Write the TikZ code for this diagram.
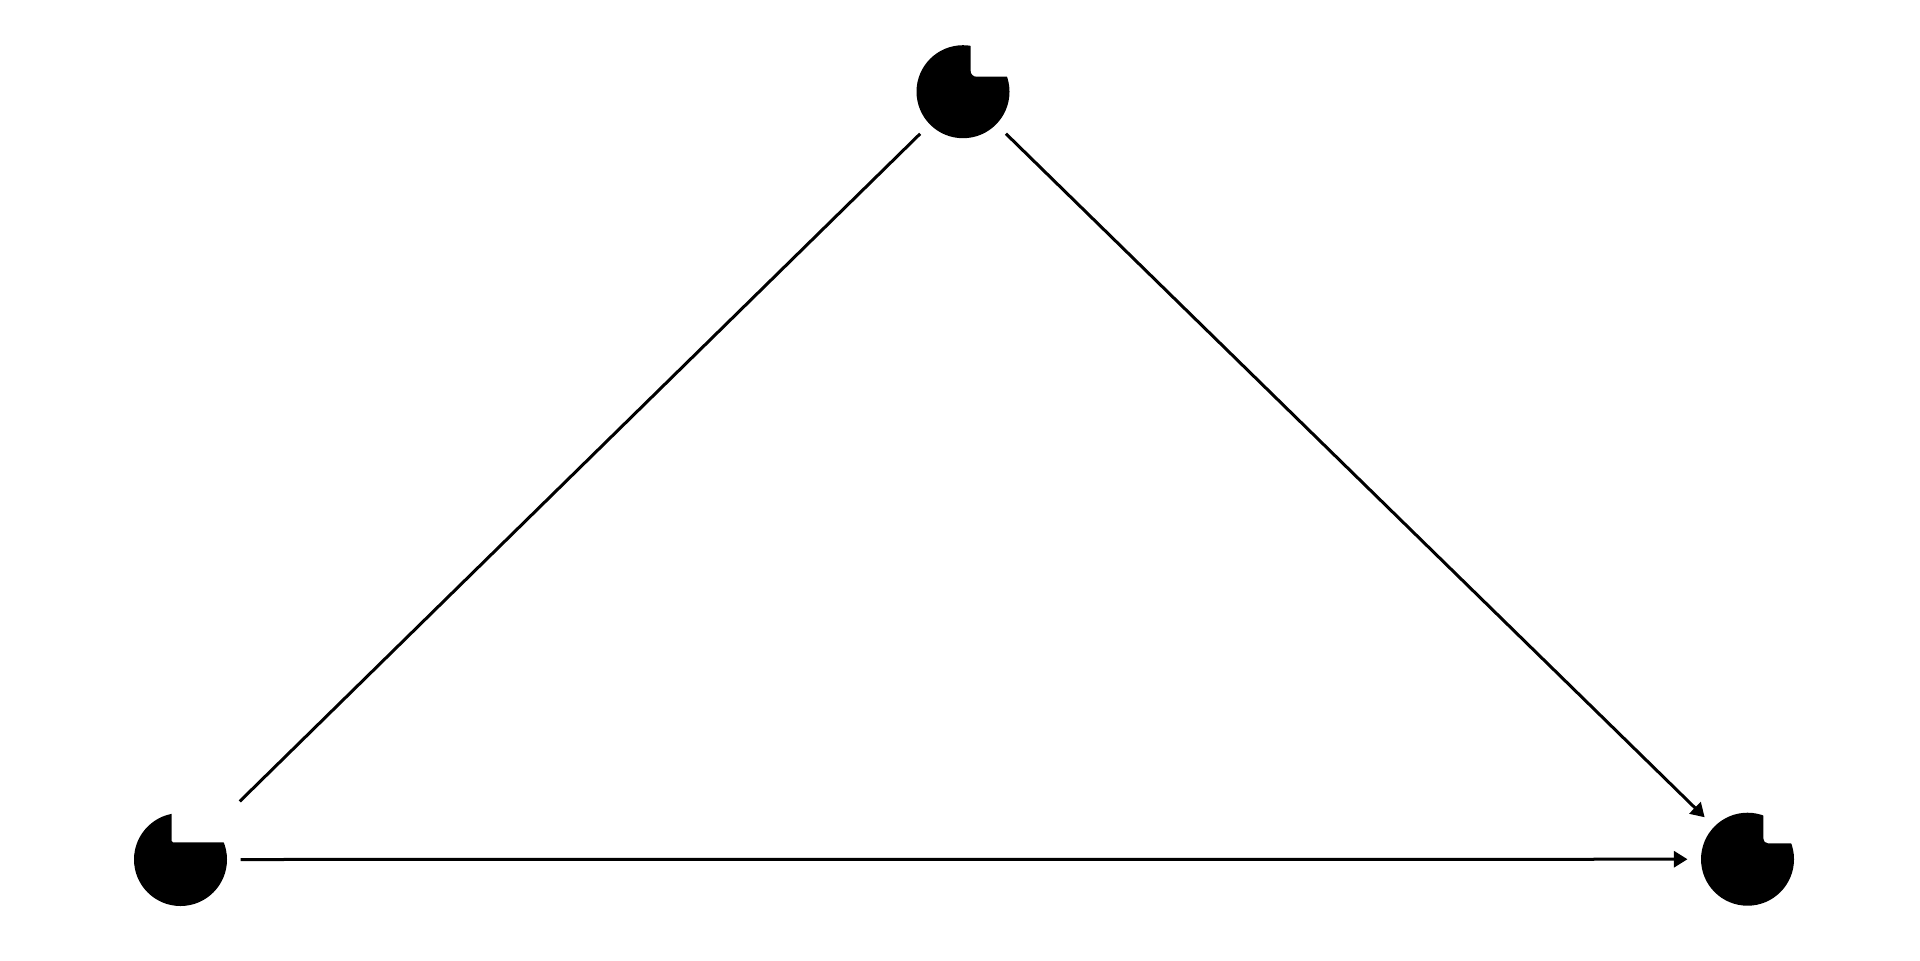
\documentclass[tikz,border=0pt]{standalone}
\usetikzlibrary{arrows.meta,calc}
\begin{document}
\begin{tikzpicture}[x=0.5pt,y=-0.5pt,
  vert/.style={circle,inner sep=0pt,outer sep=0pt,minimum size=60pt},
  conn/.style={line width=1.5pt},
  arr/.style={conn,-{Triangle[length=6.8pt,width=8pt]}},
  notch/.style={fill=white}]
\useasboundingbox (0,0) rectangle (1920,960);
\node[vert] (L) at (180.5,859.5) {};
\node[vert] (T) at (963,91.7) {};
\node[vert] (R) at (1747.5,859.2) {};
\foreach \n in {L,T,R} \fill (\n) circle[radius=23.25pt];
\fill[notch,rounded corners=3pt] ($(T)+(7.7,-15)$) rectangle ($(T)+(60,-60)$);
\fill[notch,rounded corners=2.5pt] ($(R)+(15.8,-15.9)$) rectangle ($(R)+(60,-60)$);
\fill[notch,rounded corners=0.8pt] ($(L)+(-8.8,-17.2)$) rectangle ($(L)+(60,-60)$);
\draw[conn,shorten <=11.5pt] (L) -- (T);
\draw[arr] (T) -- (R);
\draw[arr] (L) -- (R);
\end{tikzpicture}
\end{document}
